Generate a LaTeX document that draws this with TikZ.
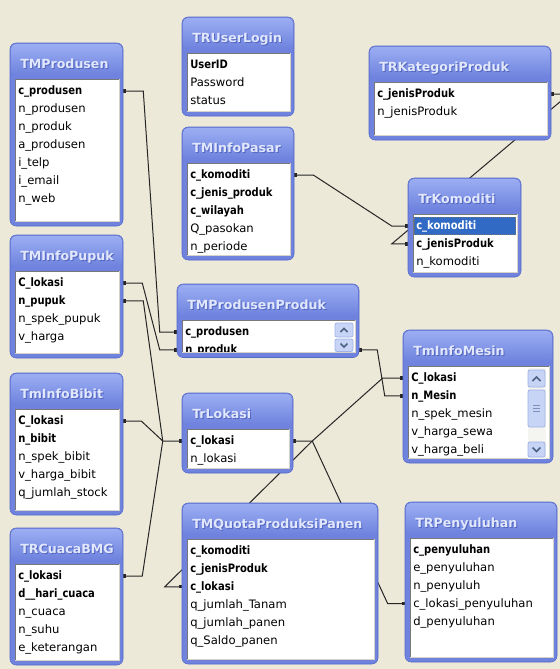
\documentclass[tikz,border=0pt]{standalone}
\usepackage{fontspec}
\usetikzlibrary{fit,calc,arrows.meta}
\newfontfamily\rowfont{DejaVu Sans}
\newfontfamily\rowbfont{DejaVu Sans}[FakeStretch=0.86]
\newfontfamily\titlefont{DejaVu Sans}
\definecolor{bgc}{RGB}{236,233,216}
\definecolor{framebody}{RGB}{110,130,222}
\definecolor{titletop}{RGB}{155,174,242}
\definecolor{frameedge}{RGB}{84,104,200}
\definecolor{titlecol}{RGB}{226,232,252}
\definecolor{titleshade}{RGB}{84,102,192}
\definecolor{panelshadow}{RGB}{120,120,120}
\definecolor{panellight}{RGB}{214,210,200}
\definecolor{selblue}{RGB}{49,106,197}
\definecolor{btnfill}{RGB}{200,212,246}
\definecolor{btnedge}{RGB}{160,178,232}
\definecolor{chev}{RGB}{77,97,133}
\definecolor{trackc}{RGB}{244,244,240}
\pgfdeclarelayer{bglayer}
\pgfdeclarelayer{linelayer}
\pgfsetlayers{bglayer,linelayer,main}
\tikzset{
  rown/.style={anchor=base west, inner sep=0pt, font=\rowfont\fontsize{8.7}{10}\selectfont, text=black},
  rowb/.style={rown, font=\rowbfont\bfseries\fontsize{8.7}{10}\selectfont},
  rows/.style={rowb, text=white},
  titletext/.style={anchor=base west, inner sep=0pt, font=\titlefont\bfseries\fontsize{9.45}{11}\selectfont, text=titlecol},
  titleshadow/.style={titletext, text=titleshade},
  conn/.style={draw=black!85, line width=0.75pt},
  mkboth/.style={arrows={Square[length=2.4pt,width=2.4pt]-Square[length=2.4pt,width=2.4pt]}},
  mkstart/.style={arrows={Square[length=2.4pt,width=2.4pt]-}},
  mkend/.style={arrows={-Square[length=2.4pt,width=2.4pt]}},
  sbtn/.style={fill=btnfill, draw=btnedge, line width=0.6pt, rounded corners=1.5pt},
  chevron/.style={draw=chev, line width=1.2pt}
}
% #1 name, #2 x1, #3 y1, #4 x2, #5 y2, #6 title, #7 rows, #8 extra code under rows
\newcommand\ertable[8]{%
  \path[draw=frameedge, fill=framebody, rounded corners=4.5pt] (#2,#3) rectangle (#4,#5);
  \shade[top color=titletop, bottom color=framebody, rounded corners=4pt] (#2+0.8,#3+0.8) rectangle (#4-0.8,#3+32);
  \fill[white] (#2+5,#3+36) rectangle (#4-4,#5-5);
  \draw[panelshadow, line width=0.75pt] (#2+5,#5-5) -- (#2+5,#3+36) -- (#4-4,#3+36);
  \draw[panellight, line width=0.75pt] (#2+5,#5-5) -- (#4-4,#5-5) -- (#4-4,#3+36);
  \node[titleshadow] at (#2+11,#3+26.6) {#6};
  \node[titletext] (#1-title) at (#2+10,#3+25.6) {#6};
  \node[fit={(#2,#3) (#4,#5)}, inner sep=0pt] (#1) {};
  \begin{scope}
    \clip (#2+5.6,#3+36.6) rectangle (#4-4.6,#5-5.6);
    #8
    \foreach [count=\i] \rw/\rt in {#7} {
      \coordinate (#1-\i) at (#2, #3+48+17.9*\i-17.9);
      \node[row\rw] (#1-\i-t) at (#2+8, #3+51.8+17.9*\i-17.9) {\rt};
    }
  \end{scope}
}
\begin{document}
\begin{tikzpicture}[x=0.75pt, y=-0.75pt]
\useasboundingbox (0,0) rectangle (560,669);
\begin{pgfonlayer}{bglayer}
  \fill[bgc] (0,0) rectangle (560,669);
\end{pgfonlayer}

\ertable{tmprodusen}{10}{43}{123}{226}{TMProdusen}
  {b/c\_produsen, n/n\_produsen, n/n\_produk, n/a\_produsen, n/i\_telp, n/i\_email, n/n\_web}{}
\ertable{truserlogin}{182}{17}{294}{116}{TRUserLogin}
  {b/UserID, n/Password, n/status}{}
\ertable{tminfopasar}{182}{127}{294}{260}{TMInfoPasar}
  {b/c\_komoditi, b/c\_jenis\_produk, b/c\_wilayah, n/Q\_pasokan, n/n\_periode}{}
\ertable{trkategori}{369}{46}{551}{140}{TRKategoriProduk}
  {b/c\_jenisProduk, n/n\_jenisProduk}{}
\ertable{trkomoditi}{408}{178}{521}{277}{TrKomoditi}
  {s/c\_komoditi, b/c\_jenisProduk, n/n\_komoditi}
  {\fill[selblue] (414,217) rectangle (516,235);
   \draw[densely dotted, black!55, line width=0.5pt] (414.6,217.6) rectangle (515.4,234.4);}
\ertable{tmpupuk}{10}{235}{123}{358}{TMInfoPupuk}
  {b/C\_lokasi, b/n\_pupuk, n/n\_spek\_pupuk, n/v\_harga}{}
\ertable{tmbibit}{10}{373}{123}{515}{TmInfoBibit}
  {b/C\_lokasi, b/n\_bibit, n/n\_spek\_bibit, n/v\_harga\_bibit, n/q\_jumlah\_stock}{}
\ertable{trcuaca}{10}{528}{123}{665}{TRCuacaBMG}
  {b/c\_lokasi, b/d\_\_hari\_cuaca, n/n\_cuaca, n/n\_suhu, n/e\_keterangan}{}
\ertable{tmpp}{177}{284}{359}{357.5}{TMProdusenProduk}
  {b/c\_produsen, b/n\_produk}{}
\ertable{trlokasi}{182}{393}{293}{473}{TrLokasi}
  {b/c\_lokasi, n/n\_lokasi}{}
\ertable{tminfomesin}{403}{330}{553}{463}{TmInfoMesin}
  {b/C\_lokasi, b/n\_Mesin, n/n\_spek\_mesin, n/v\_harga\_sewa, n/v\_harga\_beli}{}
\ertable{tmquota}{182}{503}{378}{664}{TMQuotaProduksiPanen}
  {b/c\_komoditi, b/c\_jenisProduk, b/c\_lokasi, n/q\_jumlah\_Tanam, n/q\_jumlah\_panen, n/q\_Saldo\_panen}{}
\ertable{trpenyuluhan}{405}{502}{557}{662}{TRPenyuluhan}
  {b/c\_penyuluhan, n/e\_penyuluhan, n/n\_penyuluh, n/c\_lokasi\_penyuluhan, n/d\_penyuluhan}{}

% scrollbar of TMProdusenProduk
\path[sbtn] (335,323) rectangle (353,337);
\path[sbtn] (335,339) rectangle (353,351.5);
\draw[chevron] (340.5,332) -- (344,328.5) -- (347.5,332);
\draw[chevron] (340.5,343.5) -- (344,347) -- (347.5,343.5);

% scrollbar of TmInfoMesin
\fill[trackc] (528,368) rectangle (546,459);
\path[sbtn] (528,370) rectangle (545,387);
\path[sbtn] (528,390) rectangle (545,427);
\path[sbtn] (528,442) rectangle (545,457);
\draw[btnedge!80!black, line width=0.5pt] (533,405) -- (540,405) (533,408) -- (540,408) (533,411) -- (540,411);
\draw[chevron] (532.5,381) -- (536.5,377) -- (540.5,381);
\draw[chevron] (532.5,447.5) -- (536.5,451.5) -- (540.5,447.5);

\begin{pgfonlayer}{linelayer}
  \draw[conn, mkboth] (tmprodusen.east |- tmprodusen-1) -- ++(20,0)
      -- ($(tmpp.west |- tmpp-1)+(-17,0)$) -- (tmpp.west |- tmpp-1);
  \draw[conn, mkboth] (tmpupuk.east |- tmpupuk-1) -- ++(19,0)
      -- ($(tmpp.west |- tmpp-2)+(-17,0)$) -- (tmpp.west |- tmpp-2);
  \draw[conn, mkboth] (tmpupuk.east |- tmpupuk-2) -- ++(20,0)
      -- ($(trlokasi.west |- trlokasi-1)+(-19,0)$) coordinate (lokin) -- (trlokasi.west |- trlokasi-1);
  \draw[conn, mkstart] (tmbibit.east |- tmbibit-1) -- ++(18,0) -- (lokin);
  \draw[conn, mkstart] (trcuaca.east |- trcuaca-1) -- ++(19,0) -- (lokin);
  \draw[conn, mkboth] (tminfopasar.east |- tminfopasar-1) -- ++(19,0)
      -- ($(trkomoditi.west |- trkomoditi-1)+(-16,0)$) -- (trkomoditi.west |- trkomoditi-1);
  \draw[conn, mkboth] (trkategori.east |- trkategori-1) -- ++(18,0)
      -- ($(trkomoditi.west |- trkomoditi-2)+(-16,0)$) -- (trkomoditi.west |- trkomoditi-2);
  \draw[conn, mkboth] (tmpp.east |- tmpp-2) -- ++(18,0)
      -- ($(tminfomesin.west |- tminfomesin-2)+(-18,0)$) -- (tminfomesin.west |- tminfomesin-2);
  \draw[conn, mkboth] (trlokasi.east |- trlokasi-1) -- ++(19,0) coordinate (lokhub)
      -- ($(tminfomesin.west |- tminfomesin-1)+(-20,0)$) -- (tminfomesin.west |- tminfomesin-1);
  \draw[conn, mkend] (lokhub) -- ($(tmquota.west |- tmquota-3)+(-17,0)$) -- (tmquota.west |- tmquota-3);
  \draw[conn, mkend] (lokhub) -- ($(trpenyuluhan.west |- trpenyuluhan-4)+(-17,0)$) -- (trpenyuluhan.west |- trpenyuluhan-4);
\end{pgfonlayer}
\end{tikzpicture}
\end{document}
